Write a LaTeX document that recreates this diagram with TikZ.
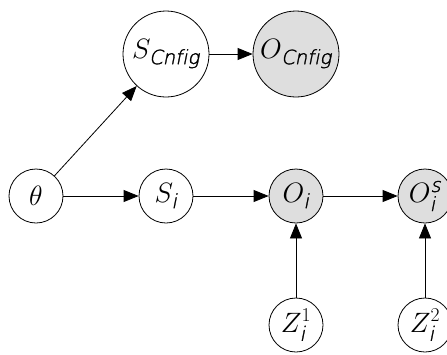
\RequirePackage{fix-cm}
\documentclass[tikz,border=0pt]{standalone}
\usepackage{amsmath}
\usepackage{fontspec}
\newfontfamily\labelsans{DejaVu Sans ExtraLight}[FakeSlant=0.2, FakeBold=1.5, Ligatures=NoCommon]
\usetikzlibrary{arrows.meta}
\newcommand{\sfsub}[1]{\text{\labelsans #1}}
\tikzset{
  var/.style={circle, draw, line width=0.8pt, inner sep=0pt, minimum size=54pt,
              font=\fontsize{28}{32}\selectfont},
  bigvar/.style={var, minimum size=86pt},
  obs/.style={fill=black!13},
  link/.style={line width=0.8pt, -{Triangle[length=15pt,width=12pt]}}
}
\begin{document}
\begin{tikzpicture}[x=1pt,y=-1pt]
  \useasboundingbox (0,0) rectangle (447,354);
  \node[var] (theta) at (36,196) {$\theta$};
  \node[var] (si) at (166,196) {$S_{\sfsub{i}}$};
  \node[var,obs] (oi) at (296,196) {$O_{\sfsub{i}}$};
  \node[var,obs] (ois) at (425,196) {$O_{\sfsub{i}}^{\sfsub{s}}$};
  \node[bigvar] (scfg) at (166,54) {$S_{\sfsub{Cnfig}}$};
  \node[bigvar,obs] (ocfg) at (296,54) {$O_{\sfsub{Cnfig}}$};
  \node[var] (z1) at (296,325) {$Z_{\sfsub{i}}^1$};
  \node[var] (z2) at (425,325) {$Z_{\sfsub{i}}^2$};
  \draw[link] (theta) -- (si);
  \draw[link] (si) -- (oi);
  \draw[link] (oi) -- (ois);
  \draw[link] (theta) -- (scfg);
  \draw[link] (scfg) -- (ocfg);
  \draw[link] (z1) -- (oi);
  \draw[link] (z2) -- (ois);
\end{tikzpicture}
\end{document}
